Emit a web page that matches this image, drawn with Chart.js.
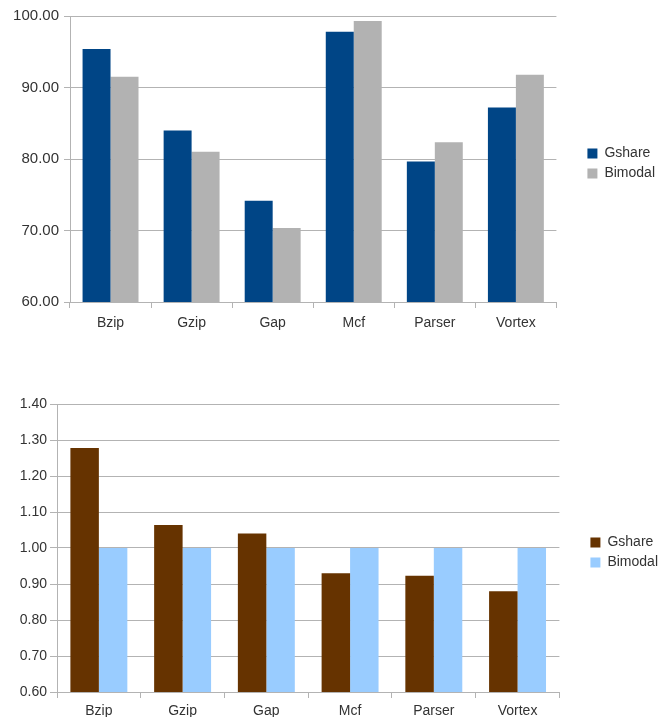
<!DOCTYPE html>
<html>
<head>
<meta charset="utf-8">
<script src="https://cdn.jsdelivr.net/npm/chart.js@4.4.1/dist/chart.umd.min.js"></script>
<style>
  body { margin: 0; background: #fff; }
  .box { position: absolute; left: 0; width: 668px; }
  #top { top: 0; height: 340px; }
  #bottom { top: 380px; height: 337px; }
</style>
</head>
<body>
<div class="box" id="top"><canvas id="chart-top"></canvas></div>
<div class="box" id="bottom"><canvas id="chart-bottom"></canvas></div>
<script>
var categories = ['Bzip', 'Gzip', 'Gap', 'Mcf', 'Parser', 'Vortex'];

// top chart: accuracy
var gshareAccuracy = [95.4, 84.0, 74.15, 97.8, 79.65, 87.2];
var bimodalAccuracy = [91.5, 81.0, 70.35, 99.3, 82.35, 91.8];
var accuracyTicks = [60, 100, 10];

// bottom chart: normalized
var gshareRatio = [1.278, 1.064, 1.04, 0.93, 0.923, 0.88];
var bimodalRatio = [1.0, 1.0, 1.0, 1.0, 1.0, 1.0];
var ratioTicks = [0.6, 1.4, 0.1];

var gridGray = '#b3b3b3';
var textColor = '#333333';
Chart.defaults.font.family = '"Liberation Sans", Arial, sans-serif';

function render_chart(id, series, colors, ticks, dims) {
    var ctx = document.getElementById(id);
    return new Chart(ctx, {
        type: 'bar',
        data: {
            labels: categories,
            datasets: [{
                label: 'Gshare',
                data: series[0],
                backgroundColor: colors[0],
                categoryPercentage: dims.cat,
                barPercentage: 1.0
            }, {
                label: 'Bimodal',
                data: series[1],
                backgroundColor: colors[1],
                categoryPercentage: dims.cat,
                barPercentage: 1.0
            }]
        },
        options: {
            responsive: true,
            maintainAspectRatio: false,
            animation: false,
            layout: { padding: { top: dims.top, right: dims.right, left: 0, bottom: 0 } },
            plugins: {
                tooltip: { enabled: false },
                legend: {
                    position: 'right',
                    align: 'start',
                    // empty title used only to push the items down
                    title: { display: true, text: '', font: { size: 12 }, padding: { top: dims.legendTop, bottom: 0 } },
                    labels: {
                        boxWidth: 10,
                        boxHeight: 10,
                        padding: 6,
                        color: textColor,
                        font: { size: 14 }
                    }
                }
            },
            scales: {
                x: {
                    grid: {
                        offset: true,
                        color: function (c) {
                            return c.index === categories.length ? gridGray : 'transparent';
                        },
                        tickColor: gridGray,
                        tickLength: 6
                    },
                    border: { color: gridGray },
                    ticks: { color: textColor, font: { size: 14 }, padding: dims.xpad },
                    afterFit: function (s) { s.height = dims.xh; }
                },
                y: {
                    min: ticks[0],
                    max: ticks[1],
                    grid: { color: gridGray, tickColor: gridGray, tickLength: dims.ytick },
                    border: { color: gridGray },
                    ticks: {
                        stepSize: ticks[2],
                        color: textColor,
                        font: { size: dims.yfont },
                        padding: dims.ypad,
                        callback: function (v) { return Number(v).toFixed(2); }
                    },
                    afterFit: function (s) { s.width = dims.yw; }
                },
                // empty spacer between plot and legend
                gap: {
                    type: 'linear',
                    position: 'right',
                    min: 0,
                    max: 1,
                    grid: { display: false },
                    border: { display: false },
                    ticks: { display: false },
                    afterFit: function (s) { s.width = dims.gap; }
                }
            }
        }
    });
}

render_chart('chart-top', [gshareAccuracy, bimodalAccuracy], ['#004586', '#b2b2b2'], accuracyTicks,
    { cat: 0.69, top: 16, right: 3, xh: 38, xpad: 7, yw: 70, yfont: 15, ytick: 6, ypad: 5, gap: 25, legendTop: 110 });
render_chart('chart-bottom', [gshareRatio, bimodalRatio], ['#663300', '#99ccff'], ratioTicks,
    { cat: 0.68, top: 24, right: 0, xh: 25, xpad: 5, yw: 57, yfont: 14, ytick: 7, ypad: 3, gap: 25, legendTop: 111 });
</script>
</body>
</html>
